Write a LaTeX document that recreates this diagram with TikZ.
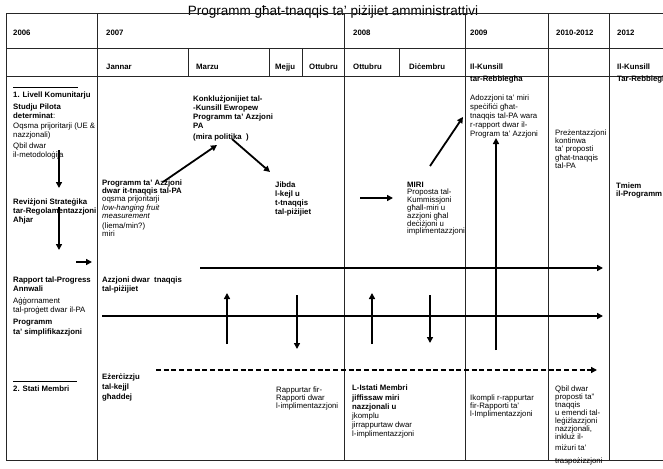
\documentclass[tikz,border=0pt]{standalone}
\usepackage{fontspec}
\setmainfont{Liberation Sans}
\usetikzlibrary{arrows.meta}
\begin{document}
\begin{tikzpicture}[x=1pt,y=-1pt,
  grid/.style={line width=0.9pt, draw=black!85},
  tx/.style={anchor=north west, inner sep=0pt, align=left, font=\fontsize{7.8}{9}\selectfont, execute at begin node=\strut},
  bx/.style={tx, font=\fontsize{7.8}{9}\selectfont\bfseries},
  arr/.style={line width=1.8pt, -{Triangle[length=6pt,width=6pt]}},
  dsh/.style={line width=1.4pt, dash pattern=on 5pt off 2.7pt, -{Triangle[length=6pt,width=6pt]}}
]
\useasboundingbox (0,0) rectangle (663,468);
% title
\node[anchor=base, inner sep=0pt, font=\fontsize{13.5}{15}\selectfont] (title) at (333,15.5) {Programm għat-tnaqqis ta' piżijiet amministrattivi};
% grid
\draw[grid] (6,13.5) -- (663,13.5);
\draw[grid] (6,48) -- (663,48);
\draw[grid] (6,76) -- (663,76);
\draw[grid] (6,460) -- (663,460);
\foreach \x in {6,97,344,465,548,609} \draw[grid] (\x,13.5) -- (\x,460);
\foreach \x in {188,269,302,399} \draw[grid] (\x,48) -- (\x,76);
\draw[line width=0.8pt] (13,87) -- (78,87);
\draw[line width=0.8pt] (13,381) -- (77,381);
% years
\node[bx] (y2006) at (13,28.6) {2006};
\node[bx] (y2007) at (106,28.6) {2007};
\node[bx] (y2008) at (353,28.6) {2008};
\node[bx] (y2009) at (470,28.6) {2009};
\node[bx] (y2010) at (556,28.6) {2010-2012};
\node[bx] (y2012) at (617,28.6) {2012};
% months
\node[bx] (mjan) at (106,62.6) {Jannar};
\node[bx] (mmar) at (196,62.6) {Marzu};
\node[bx] (mmej) at (275,62.6) {Mejju};
\node[bx] (mott) at (309,62.6) {Ottubru};
\node[bx] (mottb) at (353,62.6) {Ottubru};
\node[bx] (mdic) at (409,62.6) {Diċembru};
\node[bx] (kun1) at (470,62.6) {Il-Kunsill};
\node[bx] (reb1) at (470,74.6) {tar-Rebbiegħa};
\node[bx] (kun2) at (617,62.6) {Il-Kunsill};
\node[bx] (reb2) at (617,74.6) {Tar-Rebbiegħa};
% left column
\node[bx] (l1) at (13,90.6) {1. Livell Komunitarju};
\node[tx] (l2) at (13,103.6) {\textbf{Studju Pilota}\\\textbf{determinat}:};
\node[tx, font=\fontsize{7.8}{8.7}\selectfont] (l3) at (13,122.6) {Oqsma prijoritarji (UE \&\\nazzjonali)};
\node[tx] (l4) at (13,142.6) {Qbil dwar\\il-metodoloġija};
\node[bx] (l5) at (13,198.6) {Reviżjoni Strateġika\\tar-Regolamentazzjoni\\Aħjar};
\node[bx] (l6) at (13,276.6) {Rapport tal-Progress\\Annwali};
\node[tx] (l7) at (13,297.6) {Aġġornament\\tal-proġett dwar il-PA};
\node[bx, font=\fontsize{7.8}{10}\selectfont\bfseries] (l8) at (13,318.6) {Programm\\ta' simplifikazzjoni};
\node[bx] (l9) at (13,384.6) {2. Stati Membri};
% 2007
\node[bx] (a1) at (193,95.6) {Konklużjonijiet tal-\\-Kunsill Ewropew\\Programm ta' Azzjoni\\PA\\[2pt](mira politika\ \ )};
\node[tx, font=\fontsize{7.8}{8.2}\selectfont] (a2) at (102,179.6) {\textbf{Programm ta' Azzjoni}\\\textbf{dwar it-tnaqqis tal-PA}\\oqsma prijoritarji\\\textit{low-hanging fruit}\\\textit{measurement}\\[2pt](liema/min?)\\miri};
\node[bx] (a3) at (275,181.6) {Jibda\\l-kejl u\\t-tnaqqis\\tal-piżijiet};
\node[bx] (a4) at (102,276.6) {Azzjoni dwar\ \ tnaqqis\\tal-piżijiet};
\node[bx, font=\fontsize{7.8}{10}\selectfont\bfseries] (a5) at (102,373.6) {Eżerċizzju\\tal-kejjl\\għaddej};
\node[tx, font=\fontsize{7.8}{8}\selectfont] (a6) at (276,386.6) {Rappurtar fir-\\Rapporti dwar\\l-implimentazzjoni};
% 2008
\node[tx, font=\fontsize{7.8}{7.8}\selectfont] (b1) at (407,181.6) {\textbf{MIRI}\\Proposta tal-\\Kummissjoni\\għall-miri u\\azzjoni għal\\deċiżjoni u\\implimentazzjoni};
\node[tx] (b2) at (352,384.6) {\textbf{L-Istati Membri}\\[1pt]\textbf{jiffissaw miri}\\\textbf{nazzjonali u}\\jkomplu\\jirrappurtaw dwar\\l-implimentazzjoni};
% 2009
\node[tx] (c1) at (470,94.6) {Adozzjoni ta' miri\\speċifiċi għat-\\tnaqqis tal-PA wara\\r-rapport dwar il-\\Program ta' Azzjoni};
\node[tx, font=\fontsize{7.8}{8}\selectfont] (c2) at (470,394.6) {Ikompli r-rappurtar\\fir-Rapporti ta'\\l-Implimentazzjoni};
% 2010-2012
\node[tx, font=\fontsize{7.8}{8.2}\selectfont] (d1) at (555,129.6) {Preżentazzjoni\\kontinwa\\ta' proposti\\għat-tnaqqis\\tal-PA};
\node[tx, font=\fontsize{7.8}{8}\selectfont] (d2) at (555,385.6) {Qbil dwar\\proposti ta''\\tnaqqis\\u emendi tal-\\leġiżlazzjoni\\nazzjonali,\\inkluż il-\\[3pt]miżuri ta'\\[5pt]traspożizzjoni};
% 2012
\node[bx, font=\fontsize{7.8}{8.5}\selectfont\bfseries] (e1) at (616,182.6) {Tmiem\\il-Programm};
% arrow end points
\coordinate (la1s) at (59,150); \coordinate (la1e) at (59,188);
\coordinate (la2s) at (59,207); \coordinate (la2e) at (59,250);
\coordinate (la3s) at (76,262); \coordinate (la3e) at (92,262);
\coordinate (d1s) at (163,182); \coordinate (d1e) at (217,145);
\coordinate (d2s) at (232,139); \coordinate (d2e) at (270,172);
\coordinate (d3s) at (430,166); \coordinate (d3e) at (463,117);
\coordinate (h8s) at (360,198); \coordinate (h8e) at (393,198);
\coordinate (vbs) at (496,350); \coordinate (vbe) at (496,138);
\coordinate (ts1) at (200,268); \coordinate (te1) at (603,268);
\coordinate (ts2) at (102,316); \coordinate (te2) at (603,316);
\coordinate (u1s) at (227,344); \coordinate (u1e) at (227,293);
\coordinate (n1s) at (297,295); \coordinate (n1e) at (297,349);
\coordinate (u2s) at (372,344); \coordinate (u2e) at (372,293);
\coordinate (n2s) at (430,295); \coordinate (n2e) at (430,343);
\coordinate (dss) at (156,370); \coordinate (dse) at (597,370);
% arrows
\draw[arr] (la1s) -- (la1e);
\draw[arr] (la2s) -- (la2e);
\draw[arr] (la3s) -- (la3e);
\draw[arr] (d1s) -- (d1e);
\draw[arr] (d2s) -- (d2e);
\draw[arr] (d3s) -- (d3e);
\draw[arr] (h8s) -- (h8e);
\draw[arr] (vbs) -- (vbe);
\draw[arr] (ts1) -- (te1);
\draw[arr] (ts2) -- (te2);
\draw[arr] (u1s) -- (u1e);
\draw[arr] (n1s) -- (n1e);
\draw[arr] (u2s) -- (u2e);
\draw[arr] (n2s) -- (n2e);
\draw[dsh] (dss) -- (dse);
\end{tikzpicture}
\end{document}
